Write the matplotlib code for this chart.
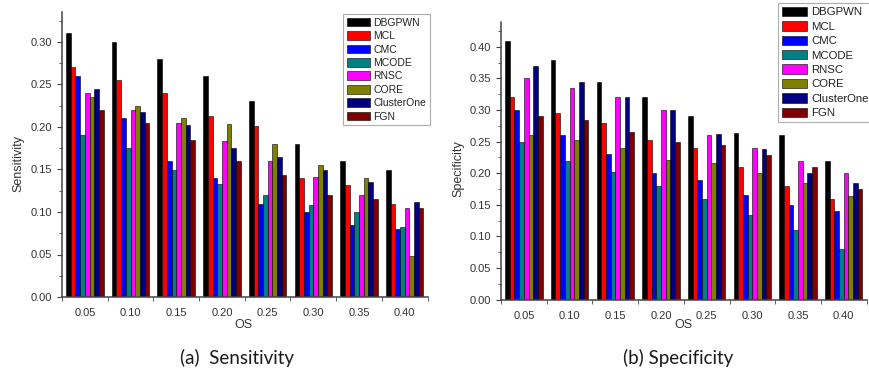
import matplotlib
matplotlib.use('Agg')
import matplotlib.pyplot as plt
from matplotlib.ticker import MultipleLocator, FixedLocator
import numpy as np

################################
## DATA:                      ##

os_values = [0.05, 0.10, 0.15, 0.20, 0.25, 0.30, 0.35, 0.40]
os_labels = ['0.05', '0.10', '0.15', '0.20', '0.25', '0.30', '0.35', '0.40']
methods = ['DBGPWN', 'MCL', 'CMC', 'MCODE', 'RNSC', 'CORE', 'ClusterOne', 'FGN']

sensitivity = {
    'DBGPWN':     [0.310, 0.300, 0.280, 0.260, 0.230, 0.180, 0.160, 0.150],
    'MCL':        [0.270, 0.255, 0.240, 0.213, 0.201, 0.140, 0.132, 0.110],
    'CMC':        [0.260, 0.210, 0.160, 0.140, 0.110, 0.100, 0.085, 0.080],
    'MCODE':      [0.190, 0.175, 0.150, 0.133, 0.120, 0.108, 0.100, 0.082],
    'RNSC':       [0.240, 0.220, 0.205, 0.183, 0.160, 0.141, 0.120, 0.105],
    'CORE':       [0.235, 0.225, 0.210, 0.204, 0.180, 0.155, 0.140, 0.048],
    'ClusterOne': [0.245, 0.218, 0.202, 0.175, 0.165, 0.150, 0.135, 0.112],
    'FGN':        [0.220, 0.205, 0.185, 0.160, 0.143, 0.120, 0.115, 0.105],
}

specificity = {
    'DBGPWN':     [0.410, 0.380, 0.345, 0.320, 0.290, 0.264, 0.260, 0.220],
    'MCL':        [0.320, 0.295, 0.280, 0.253, 0.240, 0.210, 0.180, 0.160],
    'CMC':        [0.300, 0.260, 0.230, 0.200, 0.190, 0.165, 0.150, 0.140],
    'MCODE':      [0.250, 0.220, 0.202, 0.180, 0.160, 0.134, 0.110, 0.080],
    'RNSC':       [0.350, 0.335, 0.320, 0.300, 0.260, 0.240, 0.220, 0.200],
    'CORE':       [0.260, 0.252, 0.240, 0.221, 0.216, 0.200, 0.185, 0.164],
    'ClusterOne': [0.370, 0.345, 0.320, 0.300, 0.262, 0.239, 0.200, 0.185],
    'FGN':        [0.290, 0.285, 0.265, 0.250, 0.244, 0.229, 0.210, 0.175],
}

colors = ['#000000', '#ff0000', '#0000ff', '#008080',
          '#ff00ff', '#808000', '#000080', '#800000']


################################
## SETUP:                     ##

plt.rcParams['font.family'] = ['Liberation Sans', 'DejaVu Sans']
TXT = '#333333'
SPACING = 0.05
BAR_W = SPACING * 0.82 / len(methods)

fig = plt.figure(figsize=(8.69, 3.72), dpi=100)
W, H = 869.0, 372.0


def px_axes(x0, x1, y_bottom, y_top):
    return fig.add_axes([x0 / W, 1 - y_bottom / H, (x1 - x0) / W, (y_bottom - y_top) / H])


def draw_panel(ax, data, ymax):
    x = np.array(os_values)
    n = len(methods)
    for i, (m, c) in enumerate(zip(methods, colors)):
        off = (i - (n - 1) / 2) * BAR_W
        ax.bar(x + off, data[m], width=BAR_W, color=c, edgecolor='black',
               linewidth=0.4, label=m)
    ax.set_xlim(0.025, 0.425)
    ax.set_ylim(0, ymax)
    for s in ['top', 'right']:
        ax.spines[s].set_visible(False)
    for s in ['left', 'bottom']:
        ax.spines[s].set_color('#444444')
        ax.spines[s].set_linewidth(1.1)
    ax.set_xticks(os_values)
    ax.set_xticklabels(os_labels)
    ax.xaxis.set_minor_locator(FixedLocator(np.arange(0.025, 0.43, 0.05)))
    ax.yaxis.set_major_locator(MultipleLocator(0.05))
    ax.yaxis.set_minor_locator(MultipleLocator(0.025))
    ax.yaxis.set_major_formatter(matplotlib.ticker.FormatStrFormatter('%.2f'))
    ax.tick_params(axis='x', which='major', length=0, pad=8, labelsize=8, labelcolor=TXT)
    ax.tick_params(axis='x', which='minor', length=3, direction='out', color='#444444')
    ax.tick_params(axis='y', which='major', length=3.5, direction='out', pad=3.5,
                   labelsize=8, labelcolor=TXT, color='#444444')
    ax.tick_params(axis='y', which='minor', length=2, direction='out', color='#444444')


def add_legend(ax, loc, anchor, fs, hl, hh, ls):
    leg = ax.legend(loc=loc, bbox_to_anchor=anchor, bbox_transform=fig.transFigure,
                    fontsize=fs, frameon=True, fancybox=False, borderaxespad=0,
                    handlelength=hl, handleheight=hh, labelspacing=ls,
                    handletextpad=0.35, borderpad=0.35)
    leg.get_frame().set_edgecolor('#999999')
    leg.get_frame().set_linewidth(0.8)
    for t in leg.get_texts():
        t.set_color('#222222')
    return leg


################################
## PANELS:                    ##

ax1 = px_axes(62, 427.5, 297, 12.25)
draw_panel(ax1, sensitivity, 0.335)
add_legend(ax1, 'upper right', (430 / W, 1 - 14 / H), 7.5, 2.2, 0.9, 0.33)

ax2 = px_axes(501, 866.6, 299.7, 21.6)
draw_panel(ax2, specificity, 0.44)
add_legend(ax2, 'upper left', (778 / W, 1 - 2.7 / H), 8.2, 2.2, 0.9, 0.33)

fig.text(18 / W, 1 - 163 / H, 'Sensitivity', rotation=90, ha='center', va='center',
         fontsize=9, color=TXT)
fig.text(458 / W, 1 - 169 / H, 'Specificity', rotation=90, ha='center', va='center',
         fontsize=9, color=TXT)
fig.text(243.5 / W, 1 - 325 / H, 'OS', ha='center', va='center', fontsize=9, color=TXT)
fig.text(683 / W, 1 - 325 / H, 'OS', ha='center', va='center', fontsize=9, color=TXT)

fig.text(237 / W, 1 - 358 / H, '(a)  Sensitivity', ha='center', va='center',
         fontsize=13.5, family='Lato', color='#1a1a1a')
fig.text(678 / W, 1 - 358 / H, '(b) Specificity', ha='center', va='center',
         fontsize=13.5, family='Lato', color='#1a1a1a')

fig.savefig('out.png', dpi=100)
